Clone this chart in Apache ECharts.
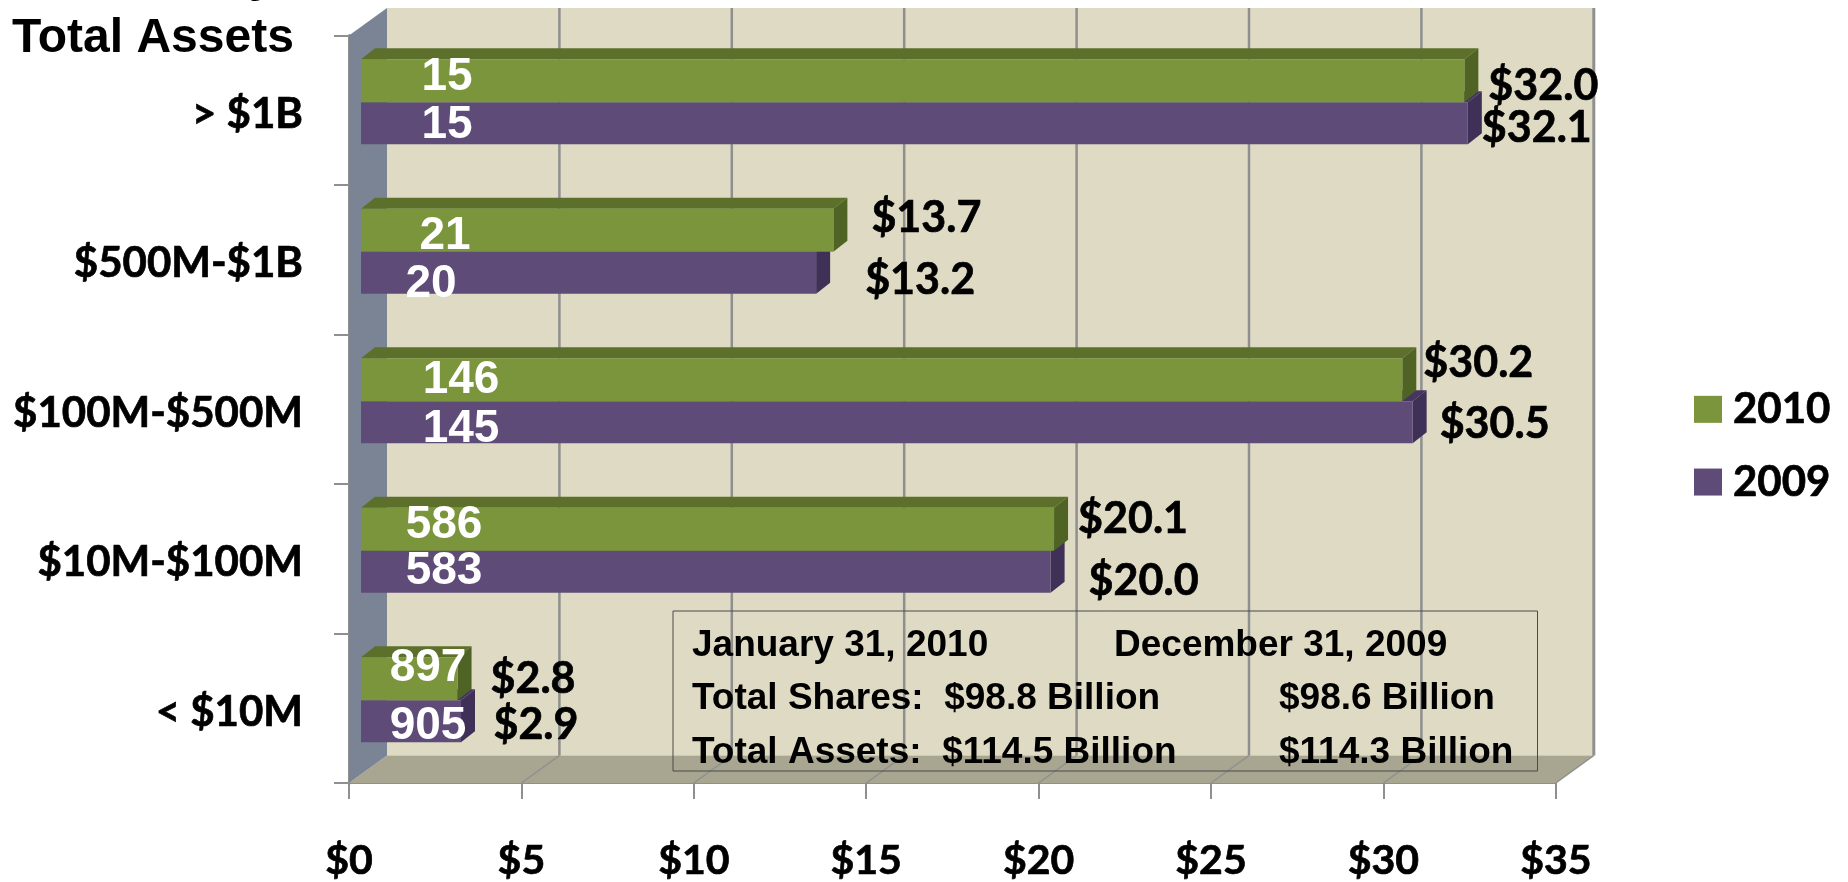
<!DOCTYPE html>
<html>
<head>
<meta charset="utf-8">
<style>html,body{margin:0;padding:0;background:#fff}#c{width:1848px;height:882px}</style>
<script src="https://cdn.jsdelivr.net/npm/echarts@6/dist/echarts.min.js"></script>
</head>
<body>
<div id="c"></div>
<script>
const categories = ['> $1B', '$500M-$1B', '$100M-$500M', '$10M-$100M', '< $10M'];
const assets2010 = [32.0, 13.7, 30.2, 20.1, 2.8];
const assets2009 = [32.1, 13.2, 30.5, 20.0, 2.9];
const counts2010 = [15, 21, 146, 586, 897];
const counts2009 = [15, 20, 145, 583, 905];
const axisTicks = [0, 5, 10, 15, 20, 25, 30, 35];
const axisTitle = 'Total Assets';
const clippedTitleTail = 'y';
const summaryDates = ['January 31, 2010', 'December 31, 2009'];
const summaryShares = ['Total Shares:  $98.8 Billion', '$98.6 Billion'];
const summaryAssets = ['Total Assets:  $114.5 Billion', '$114.3 Billion'];

/* label placement, hand-placed in the original chart: offset from the data point */
const valueNudge2010 = [[91, -24], [105, -42], [88, -46], [91, -40], [87.5, -29]];
const valueNudge2009 = [[81, 18], [116, 20], [94, 15], [105, 22], [87, 17]];
const countNudge2010 = [[98, -33], [96, -23], [112, -29], [95, -33], [79, -40]];
const countNudge2009 = [[98, 15], [82, 25], [112, 20], [95, 13], [79, 18]];

const WALL_DX = 38, WALL_DY = 27.5;
const BAR_SHIFT = 12, BAR_DX = 14, BAR_DY = 11;
const LATO = 'Lato, sans-serif', ARIAL = '"Liberation Sans", Arial, sans-serif';
const GRID_GRAY = '#8f8f8f';

function poly(points, fill, z2) {
  return { type: 'polygon', shape: { points }, style: { fill }, z2: z2 || 0 };
}
function seg(x1, y1, x2, y2, stroke, lineWidth) {
  return { type: 'line', shape: { x1, y1, x2, y2 }, style: { stroke, lineWidth } };
}

function renderWalls(params, api) {
  const x0 = api.coord([0, 0])[0];
  const x1 = api.coord([35, 0])[0];
  const band = api.size([0, 1])[1];
  const yTop = api.coord([0, 0])[1] - band / 2;
  const yBot = api.coord([0, categories.length - 1])[1] + band / 2;
  const d = WALL_DX, h = WALL_DY;
  const children = [
    poly([[x0 + d, yTop - h], [x1 + d, yTop - h], [x1 + d, yBot - h], [x0 + d, yBot - h]], '#dedac3'),
    poly([[x0, yBot], [x1, yBot], [x1 + d, yBot - h], [x0 + d, yBot - h]], '#a8a591'),
    poly([[x0, yTop], [x0 + d, yTop - h], [x0 + d, yBot - h], [x0, yBot]], '#7a8494')
  ];
  axisTicks.slice(1).forEach(t => {
    const x = api.coord([t, 0])[0];
    children.push(seg(x + d, yTop - h, x + d, yBot - h, GRID_GRAY, t === 35 ? 3 : 2.5));
    children.push(seg(x, yBot, x + d, yBot - h, GRID_GRAY, 1.5));
  });
  return { type: 'group', children };
}

function barRenderer(front, top, side, yFrom, yTo, valueNudge, countNudge) {
  return function (params, api) {
    const i = params.dataIndex;
    const c = api.coord([api.value(0), api.value(1)]);
    const base = api.coord([0, api.value(1)]);
    const x0 = base[0] + BAR_SHIFT, x1 = c[0] + BAR_SHIFT;
    const y0 = c[1] + yFrom, y1 = c[1] + yTo;
    const dx = BAR_DX, dy = BAR_DY;
    return {
      type: 'group',
      children: [
        poly([[x0, y0], [x1, y0], [x1 + dx, y0 - dy], [x0 + dx, y0 - dy]], top),
        poly([[x1, y0], [x1 + dx, y0 - dy], [x1 + dx, y1 - dy], [x1, y1]], side),
        poly([[x0, y0], [x1, y0], [x1, y1], [x0, y1]], front),
        {
          type: 'text',
          style: {
            x: base[0] + countNudge[i][0], y: c[1] + countNudge[i][1],
            text: String(api.value(2)), fill: '#fff',
            font: 'bold 46px ' + ARIAL, textAlign: 'center', textVerticalAlign: 'middle'
          }
        },
        {
          type: 'text',
          style: {
            x: c[0] + valueNudge[i][0], y: c[1] + valueNudge[i][1],
            text: '$' + api.value(0).toFixed(1), fill: '#000',
            font: 'bold 43px ' + LATO, textAlign: 'center', textVerticalAlign: 'middle',
            stroke: '#000', lineWidth: 0.7
          }
        }
      ]
    };
  };
}

function rows(values, counts) {
  return values.map((v, i) => [v, i, counts[i]]);
}

function summaryText(text, x, y) {
  return {
    type: 'text', x, y, z: 10,
    style: { text, fill: '#000', font: 'bold 37px ' + ARIAL, textVerticalAlign: 'middle' }
  };
}

const heavy = { textBorderColor: '#000', textBorderWidth: 0.7 };

const chart = echarts.init(document.getElementById('c'));
chart.setOption({
  animation: false,
  backgroundColor: '#fff',
  grid: { left: 349, top: 35.5, width: 1206.8, height: 747.5, containLabel: false },
  xAxis: {
    type: 'value', min: 0, max: 35, interval: 5,
    splitLine: { show: false },
    axisLine: { show: true, lineStyle: { color: GRID_GRAY, width: 2 } },
    axisTick: { show: true, length: 16, lineStyle: { color: GRID_GRAY, width: 2 } },
    axisLabel: Object.assign({
      margin: 57, color: '#000', fontFamily: LATO, fontWeight: 'bold', fontSize: 41,
      formatter: v => '$' + v
    }, heavy)
  },
  yAxis: {
    type: 'category', inverse: true, data: categories,
    axisLine: { show: true, lineStyle: { color: GRID_GRAY, width: 3 } },
    axisTick: { show: true, length: 15, alignWithLabel: false, lineStyle: { color: GRID_GRAY, width: 2 } },
    axisLabel: Object.assign({
      margin: 46, color: '#000', fontFamily: LATO, fontWeight: 'bold', fontSize: 42,
      verticalAlign: 'top', lineHeight: 8
    }, heavy)
  },
  legend: {
    data: ['2010', '2009'], orient: 'vertical', left: 1689, top: 383,
    itemWidth: 28, itemHeight: 27, itemGap: 30, icon: 'rect',
    textStyle: Object.assign({
      color: '#000', fontFamily: LATO, fontWeight: 'bold', fontSize: 42,
      lineHeight: 27, padding: [0, 0, 0, 6]
    }, heavy)
  },
  series: [
    { type: 'custom', name: 'walls', z: 1, silent: true, data: [[0, 0]], renderItem: renderWalls },
    {
      type: 'custom', name: '2009', z: 3, itemStyle: { color: '#5f4b78' },
      data: rows(assets2009, counts2009), encode: { x: 0, y: 1 },
      renderItem: barRenderer('#5f4b78', '#46355f', '#3f3058', -8, 34, valueNudge2009, countNudge2009)
    },
    {
      type: 'custom', name: '2010', z: 4, itemStyle: { color: '#7a953b' },
      data: rows(assets2010, counts2010), encode: { x: 0, y: 1 },
      renderItem: barRenderer('#7a953b', '#5c702c', '#4f6325', -51, -8, valueNudge2010, countNudge2010)
    }
  ],
  graphic: [
    { type: 'text', x: 12, y: 39, z: 10, style: { text: axisTitle, fill: '#000', font: 'bold 48px ' + ARIAL, textVerticalAlign: 'middle' } },
    { type: 'text', x: 249, y: -22, z: 10, style: { text: clippedTitleTail, fill: '#000', font: 'bold 48px ' + ARIAL, textVerticalAlign: 'middle' } },
    { type: 'rect', z: 9, shape: { x: 673, y: 611, width: 864.5, height: 160 }, style: { fill: 'none', stroke: '#4a4a4a', lineWidth: 1 } },
    summaryText(summaryDates[0], 692, 646),
    summaryText(summaryDates[1], 1114, 646),
    summaryText(summaryShares[0], 692, 699),
    summaryText(summaryShares[1], 1279, 699),
    summaryText(summaryAssets[0], 692, 753),
    summaryText(summaryAssets[1], 1279, 753)
  ]
});
</script>
</body>
</html>
